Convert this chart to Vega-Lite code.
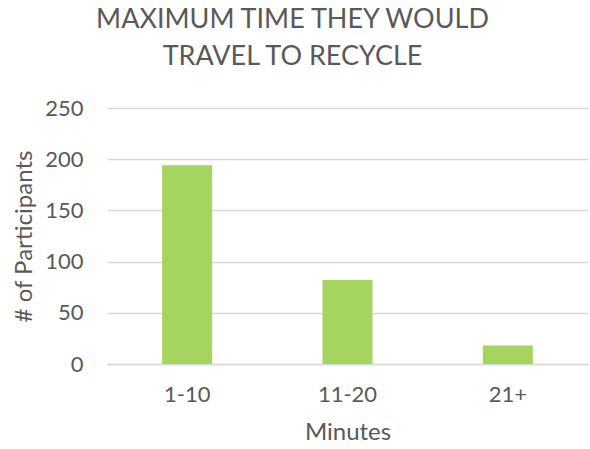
{
  "$schema": "https://vega.github.io/schema/vega-lite/v6.json",
  "autosize": "none",
  "width": 481,
  "height": 256,
  "padding": {"left": 107, "top": 108, "right": 2, "bottom": 85},
  "background": "white",
  "title": {
    "text": ["MAXIMUM TIME THEY WOULD", "TRAVEL TO RECYCLE"],
    "font": "Lato",
    "fontSize": 27,
    "fontWeight": "normal",
    "color": "#595959",
    "anchor": "middle",
    "dx": -55,
    "offset": 26,
    "lineHeight": 37
  },
  "data": {
    "values": [
      {"minutes": "1-10", "participants": 194},
      {"minutes": "11-20", "participants": 82},
      {"minutes": "21+", "participants": 18}
    ]
  },
  "mark": {"type": "bar", "color": "#A5D55F"},
  "encoding": {
    "x": {
      "field": "minutes",
      "type": "nominal",
      "sort": null,
      "title": "Minutes",
      "scale": {"paddingInner": 0.688, "paddingOuter": 0.344},
      "axis": {
        "labelAngle": 0,
        "labelFont": "Lato",
        "labelFontSize": 22,
        "labelColor": "#595959",
        "labelPadding": 20,
        "ticks": false,
        "tickSize": 0,
        "domainColor": "#D9D9D9",
        "domainWidth": 1.5,
        "titleFont": "Lato",
        "titleFontSize": 24,
        "titleFontWeight": "normal",
        "titleColor": "#595959",
        "titlePadding": 15
      }
    },
    "y": {
      "field": "participants",
      "type": "quantitative",
      "title": "# of Participants",
      "scale": {"domain": [0, 250]},
      "axis": {
        "values": [0, 50, 100, 150, 200, 250],
        "labelFont": "Lato",
        "labelFontSize": 22,
        "labelColor": "#595959",
        "labelPadding": 24,
        "ticks": false,
        "tickSize": 0,
        "domain": false,
        "gridColor": "#D9D9D9",
        "gridWidth": 1.5,
        "titleFont": "Lato",
        "titleFontSize": 24,
        "titleFontWeight": "normal",
        "titleColor": "#595959",
        "titlePadding": 8
      }
    }
  },
  "config": {"view": {"stroke": null}}
}
